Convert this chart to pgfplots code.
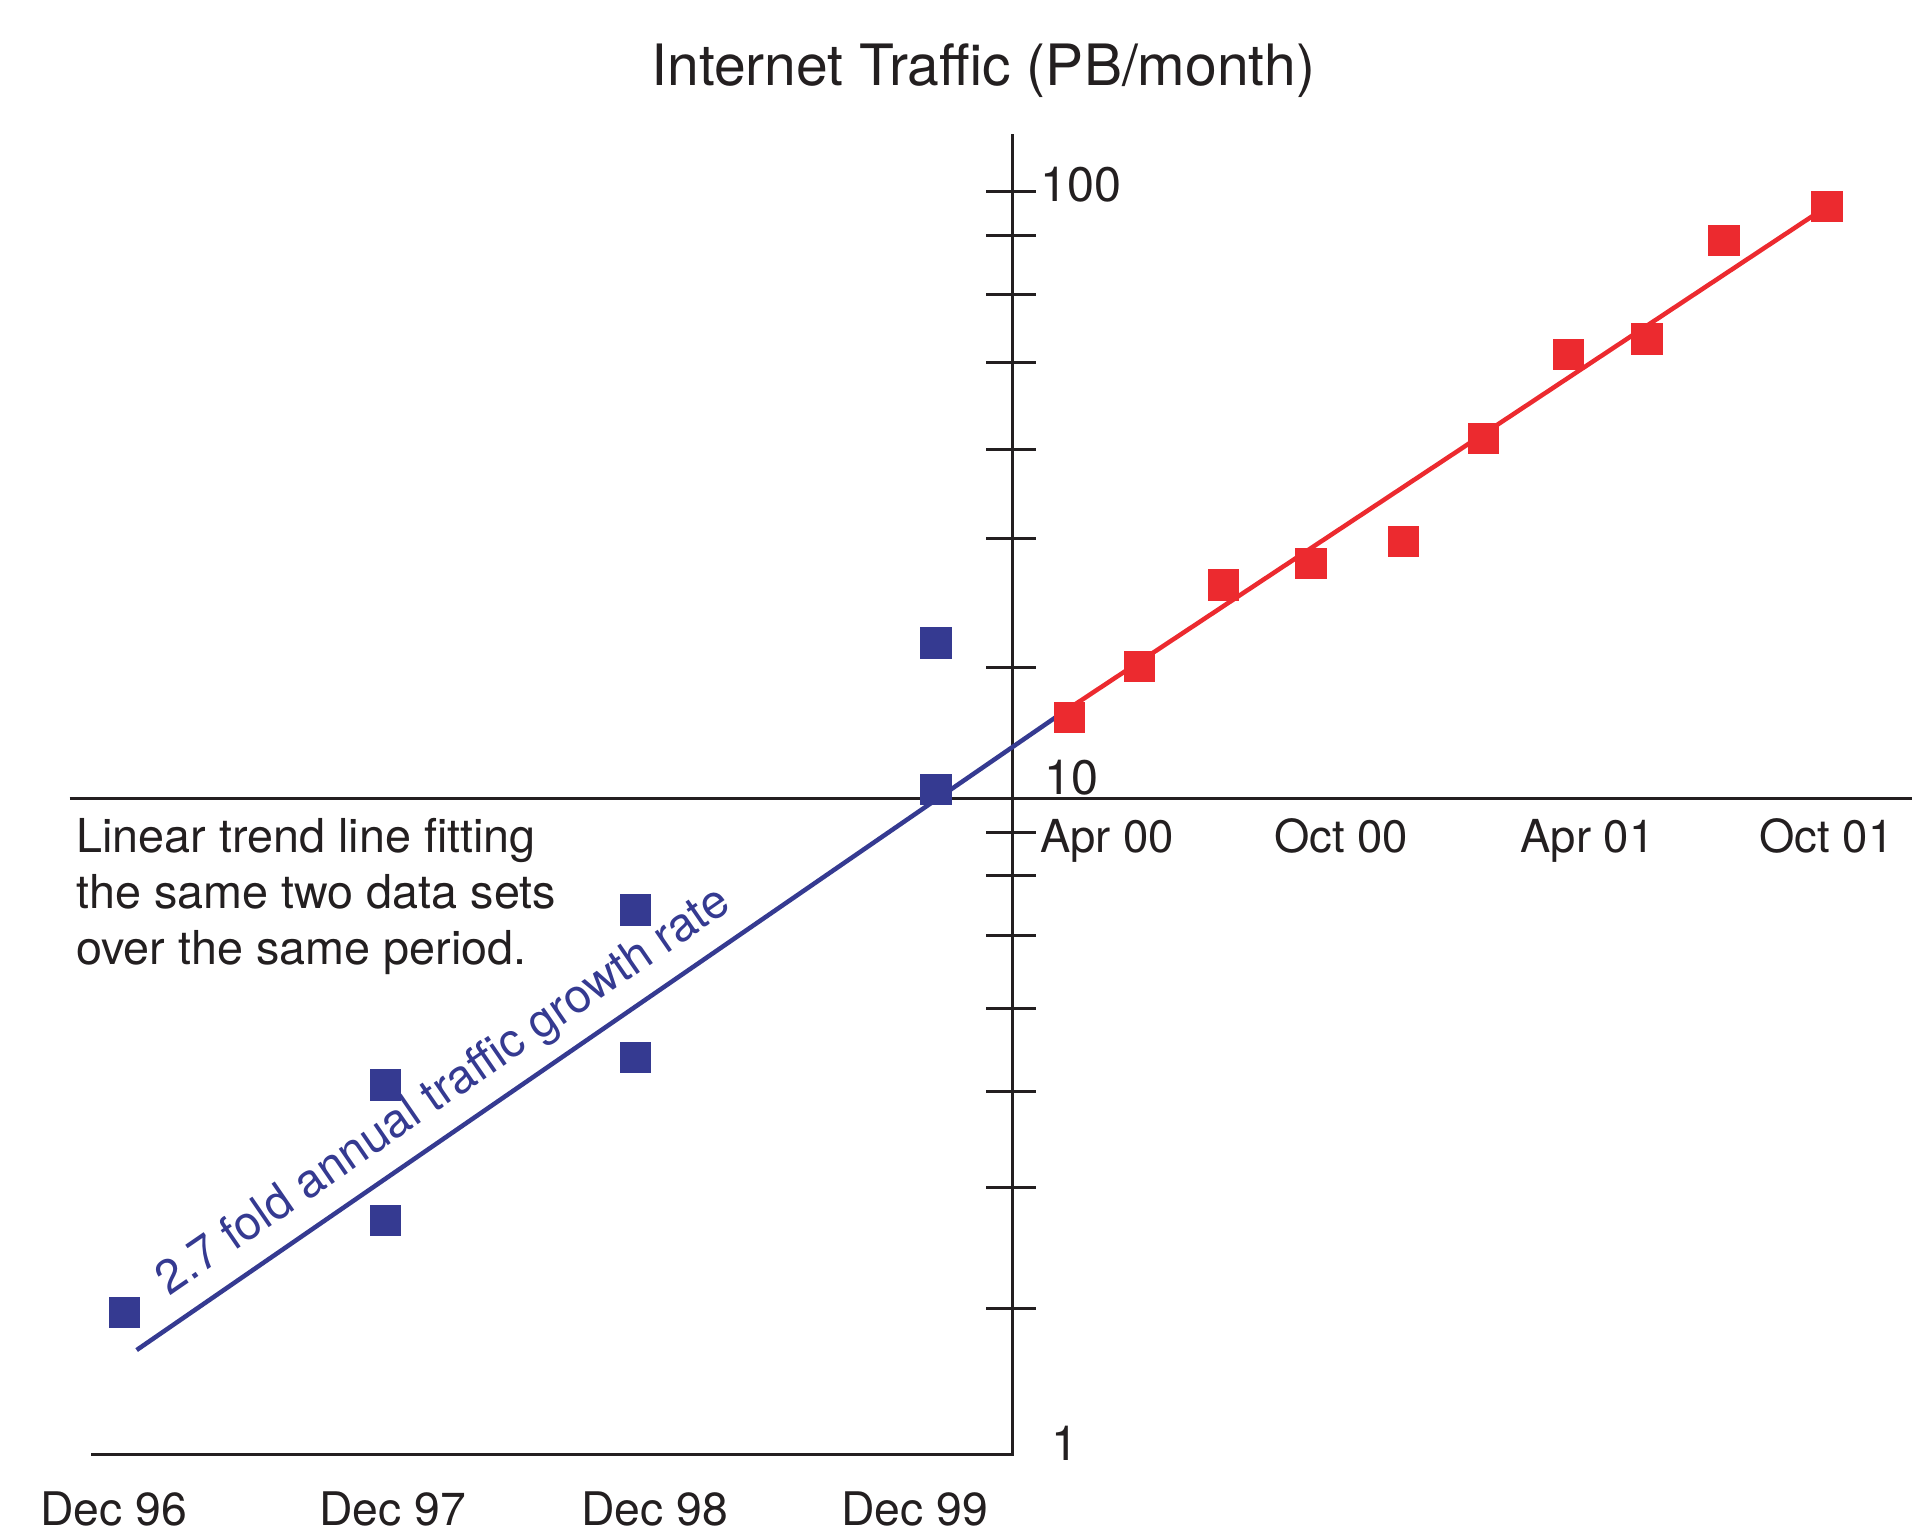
\documentclass[border=0pt]{standalone}
\usepackage{pgfplots}
\pgfplotsset{compat=1.18}
\usepackage{fontspec}
\setmainfont{TeX Gyre Heros}
\definecolor{tblue}{RGB}{53,58,145}
\definecolor{tred}{RGB}{236,42,47}
\definecolor{tblack}{RGB}{35,31,32}
\begin{document}
\begin{tikzpicture}
\useasboundingbox (0,0) rectangle (15.68cm,12.62cm);
% decorations in pixel units of the reference (1568 x 1262)
\begin{scope}[x=0.01cm, y=-0.01cm, shift={(0,12.62cm)}]
  \draw[tblack, line width=0.7pt, line join=miter] (830,110) -- (830,1192.6) -- (75,1192.6);
  \draw[tblack, line width=0.7pt] (57,655.1) -- (1568,655.1);
  \foreach \t in {156.7,193.2,241.4,297.6,368.6,441.6,547.4,682.6,718.4,767.3,827.5,895.3,973.6,1073.3}
    \draw[tblack, line width=0.7pt] (808.7,\t) -- (849.7,\t);
  % title
  \node[anchor=base, inner sep=0pt, text=tblack, font=\fontsize{13.3}{16}\selectfont] at (806.4,70.5) {Internet Traffic (PB/month)};
  % y labels
  \node[anchor=base west, inner sep=0pt, text=tblack, font=\fontsize{11.3}{13}\selectfont] at (853,165.3) {100};
  \node[anchor=base west, inner sep=0pt, text=tblack, font=\fontsize{11.3}{13}\selectfont] at (856,651.6) {10};
  \node[anchor=base west, inner sep=0pt, text=tblack, font=\fontsize{11.3}{13}\selectfont] at (862,1198) {1};
  % x labels (left panel)
  \foreach \x/\l in {93/Dec 96, 322/Dec 97, 537/Dec 98, 750/Dec 99}
    \node[anchor=base, inner sep=0pt, text=tblack, font=\fontsize{10.8}{13}\selectfont] at (\x,1251) {\l};
  % x labels (right panel)
  \foreach \x/\l in {908/Apr 00, 1100/Oct 00, 1302/Apr 01, 1498/Oct 01}
    \node[anchor=base, inner sep=0pt, text=tblack, font=\fontsize{10.6}{13}\selectfont] at (\x,699.5) {\l};
  % note
  \foreach \y/\l in {699.5/Linear trend line fitting, 745.4/the same two data sets, 791.3/over the same period.}
    \node[anchor=base west, inner sep=0pt, text=tblack, font=\fontsize{10.9}{13}\selectfont] at (62,\y) {\l};
  % rotated label
  \node[anchor=base, inner sep=0pt, rotate=34.55, text=tblue, font=\fontsize{11}{13}\selectfont] at (370,904) {2.7 fold annual traffic growth rate};
\end{scope}
% left panel: Dec 96 -- Dec 99 (x = months since Dec 96)
\begin{axis}[at={(0,0)}, anchor=south west, scale only axis, width=15.68cm, height=12.62cm,
  hide axis, clip=false, ymode=log,
  xmin=-5.0273, xmax=80.656, ymin=0.7428, ymax=165.5]
\addplot[tblue, line width=1.05pt, no marks] coordinates {(1.093,1.4454) (42.24,13.32)};
\addplot[tblue, only marks, mark=square*, mark size=3.45pt, mark options={solid, fill=tblue, draw=tblue, line width=0.4pt}] coordinates {
  (0.55,1.650) (12.25,2.276) (12.25,3.667) (23.45,4.036) (23.45,6.780) (36.89,10.35) (36.89,17.31)};
\end{axis}
% right panel: Apr 00 -- Oct 01 (x = months since Apr 00)
\begin{axis}[at={(0,0)}, anchor=south west, scale only axis, width=15.68cm, height=12.62cm,
  hide axis, clip=false, ymode=log,
  xmin=-27.70, xmax=20.134, ymin=0.6058, ymax=206.26]
\addplot[tred, line width=1.05pt, no marks] coordinates {(-1.312,13.63) (17.98,94.34)};
\addplot[tred, only marks, mark=square*, mark size=3.45pt, mark options={solid, fill=tred, draw=tred, line width=0.4pt}] coordinates {
  (-0.961,13.64) (0.799,16.52) (2.895,22.50) (5.079,24.39) (7.395,26.53)
  (9.39,39.24) (11.516,53.83) (13.48,57.13) (15.406,82.88) (17.98,94.34)};
\end{axis}
\end{tikzpicture}
\end{document}
